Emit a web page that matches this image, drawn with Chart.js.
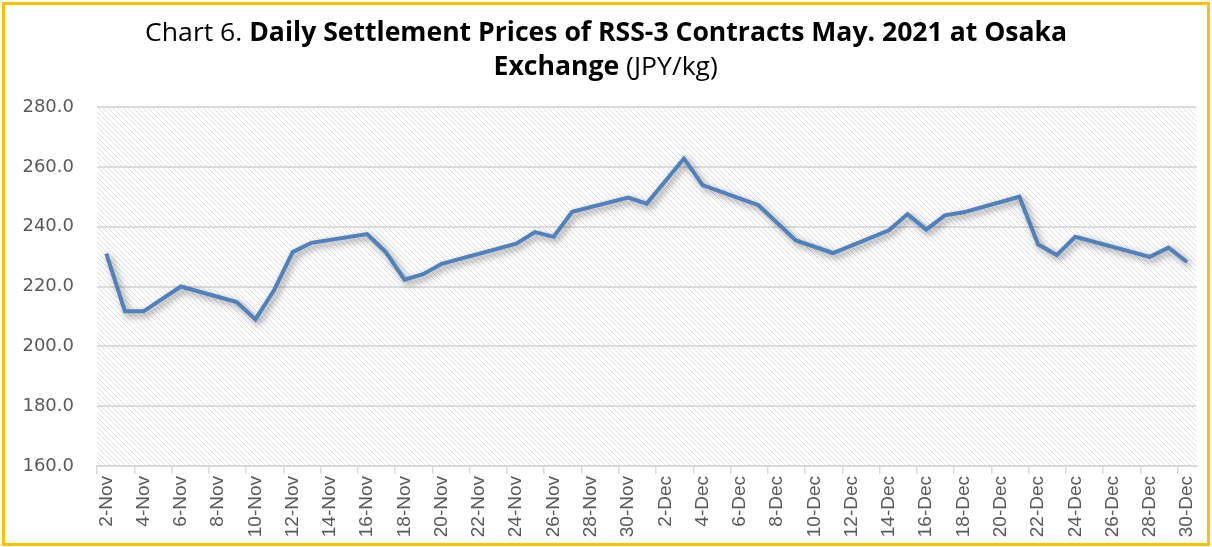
<!DOCTYPE html>
<html>
<head>
<meta charset="utf-8">
<script src="https://cdn.jsdelivr.net/npm/chart.js@4.4.1/dist/chart.umd.min.js"></script>
<style>
  html, body { margin: 0; padding: 0; background: #fff; }
  #wrap { position: relative; width: 1212px; height: 547px; overflow: hidden; }
  #frame { position: absolute; left: 2px; top: 2px; width: 1208px; height: 544px; box-sizing: border-box; border: 3px solid #FFC000; pointer-events: none; }
  #title { position: absolute; left: 0; top: 14px; width: 1212px; text-align: center; font-family: 'Open Sans', sans-serif; font-size: 26px; line-height: 34px; color: #000; }
  #title div { display: inline-block; white-space: nowrap; transform-origin: center; }
  #title b { font-weight: 700; }
  canvas { position: absolute; left: 0; top: 0; }
</style>
</head>
<body>
<div id="wrap">
  <canvas id="chart" width="1212" height="547"></canvas>
  <div id="title">
    <div id="t1">Chart 6. <b>Daily Settlement Prices of RSS-3 Contracts May. 2021 at Osaka</b></div><br>
    <div id="t2"><b>Exchange</b> (JPY/kg)</div>
  </div>
  <div id="frame"></div>
</div>
<script>
const days = [
  '2-Nov','3-Nov','4-Nov','5-Nov','6-Nov','7-Nov','8-Nov','9-Nov','10-Nov','11-Nov',
  '12-Nov','13-Nov','14-Nov','15-Nov','16-Nov','17-Nov','18-Nov','19-Nov','20-Nov','21-Nov',
  '22-Nov','23-Nov','24-Nov','25-Nov','26-Nov','27-Nov','28-Nov','29-Nov','30-Nov',
  '1-Dec','2-Dec','3-Dec','4-Dec','5-Dec','6-Dec','7-Dec','8-Dec','9-Dec','10-Dec',
  '11-Dec','12-Dec','13-Dec','14-Dec','15-Dec','16-Dec','17-Dec','18-Dec','19-Dec','20-Dec',
  '21-Dec','22-Dec','23-Dec','24-Dec','25-Dec','26-Dec','27-Dec','28-Dec','29-Dec','30-Dec'
]
// settlement prices, null = no point on that day (line runs straight across)
const novPrices = [
  231.0, 211.7, 211.7, null, 220.0, null, null, 214.8, 209.0, 218.7,
  231.5, 234.6, null, null, 237.5, 231.5, 222.3, 224.1, 227.6, null,
  null, null, 234.3, 238.2, 236.6, 245.0, null, null, 249.7
]
const decPrices = [
  247.7, null, 262.8, 253.9, null, null, 247.2, null, 235.4, null,
  231.2, null, null, 238.8, 244.2, 239.0, 243.8, 244.8, null, null,
  250.0, 234.1, 230.5, 236.6, null, null, null, 229.9, 233.0, 228.2
]
const prices = novPrices.concat(decPrices)
const yTicks = [160, 180, 200, 220, 240, 260, 280]

// fit title lines to the reference width
const t1 = document.getElementById('t1'), t2 = document.getElementById('t2')
const k = 922 / t1.getBoundingClientRect().width
t1.style.transform = 'scaleX(' + k + ')'
t2.style.transform = 'scaleX(' + k + ')'

function hatchPattern(ctx) {
  const c = document.createElement('canvas')
  c.width = 5; c.height = 5
  const g = c.getContext('2d')
  g.fillStyle = '#ffffff'
  g.fillRect(0, 0, 5, 5)
  g.strokeStyle = '#dfdfdf'
  g.lineWidth = 1
  g.beginPath()
  g.moveTo(-1, -1); g.lineTo(6, 6)
  g.moveTo(-6, -1); g.lineTo(1, 6)
  g.moveTo(4, -1); g.lineTo(11, 6)
  g.stroke()
  return ctx.createPattern(c, 'repeat')
}

const plotBg = {
  id: 'plotBg',
  beforeDraw(chart) {
    const { ctx, chartArea: a } = chart
    ctx.save()
    ctx.fillStyle = hatchPattern(ctx)
    ctx.fillRect(a.left, a.top, a.right - a.left, a.bottom - a.top)
    ctx.restore()
  }
}

const lineShadow = {
  id: 'lineShadow',
  beforeDatasetDraw(chart) {
    const ctx = chart.ctx
    ctx.save()
    ctx.shadowColor = 'rgba(0,0,0,0.45)'
    ctx.shadowBlur = 7
    ctx.shadowOffsetX = 3
    ctx.shadowOffsetY = 3
  },
  afterDatasetDraw(chart) { chart.ctx.restore() }
}

new Chart(document.getElementById('chart'), {
  type: 'line',
  data: { labels: days, datasets: [{ data: prices, borderColor: '#4F81BD', borderWidth: 4, pointRadius: 0, spanGaps: true, tension: 0, borderJoinStyle: 'miter' }] },
  options: {
    responsive: false, animation: false,
    layout: { padding: { left: 10, right: 14, top: 107, bottom: 4 } },
    plugins: { legend: { display: false }, tooltip: { enabled: false }, title: { display: false } },
    scales: {
      x: {
        offset: true,
        grid: { offset: true, drawOnChartArea: false, drawTicks: true, tickLength: 8, lineWidth: 1.5,
          color: c => (c.index !== undefined && c.index % 2 === 0) ? '#d9d9d9' : 'rgba(0,0,0,0)' },
        border: { color: '#d9d9d9', width: 2 },
        ticks: { autoSkip: false, minRotation: 90, maxRotation: 90, padding: 2, color: '#595959',
          font: { family: "'Liberation Sans', Arial, sans-serif", size: 19 },
          callback: (v, i) => i % 2 === 0 ? days[i] : '' },
        afterFit: s => { s.height = 547 - 466 - 4 }
      },
      y: {
        min: yTicks[0], max: yTicks[yTicks.length - 1],
        afterBuildTicks: s => { s.ticks = yTicks.map(v => ({ value: v })) },
        grid: { color: '#dcdcdc', lineWidth: 2, drawTicks: false },
        border: { display: false },
        ticks: { padding: 23, color: '#595959', font: { family: "'DejaVu Sans', sans-serif", size: 18 },
          callback: v => v.toFixed(1) },
        afterFit: s => { s.width = 97 - 10 }
      }
    }
  },
  plugins: [plotBg, lineShadow]
})
</script>
</body>
</html>
